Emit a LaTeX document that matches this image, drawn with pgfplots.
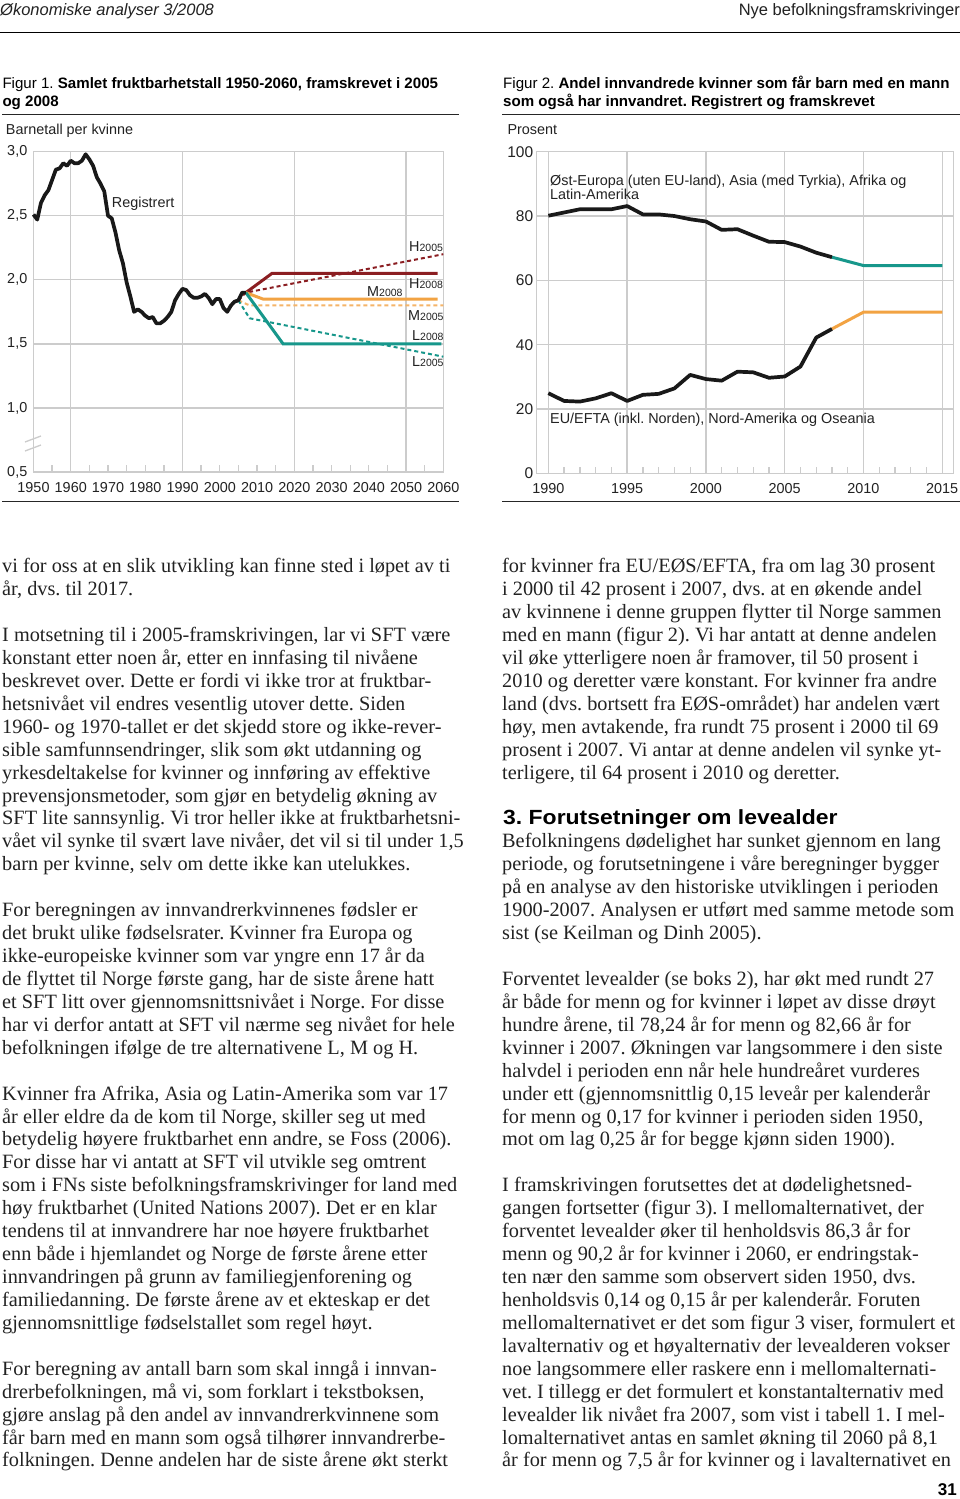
\documentclass[border=0pt]{standalone}
\usepackage{pgfplots}
\pgfplotsset{compat=1.18}
\usepackage{fontspec}
\setmainfont{Liberation Serif}
\newfontfamily\sans{Liberation Sans}
\newfontfamily\headingfont[FakeStretch=1.12]{Liberation Sans}
\definecolor{gridc}{HTML}{CCCCCC}
\definecolor{hred}{HTML}{8B1E22}
\definecolor{morange}{HTML}{F2A343}
\definecolor{lteal}{HTML}{17978B}
\definecolor{txt}{HTML}{222222}
\frenchspacing
\newcommand\bodyfont{\fontsize{20.3}{23}\selectfont}
\newcommand\Lline[2]{\pgfmathsetmacro\yy{572.7+22.93*#1}\node[anchor=base west,inner sep=0pt,font=\bodyfont,text=txt] at (2pt,-\yy pt){#2};}
\newcommand\Rline[2]{\pgfmathsetmacro\yy{572.7+22.93*#1}\node[anchor=base west,inner sep=0pt,font=\bodyfont,text=txt] at (502pt,-\yy pt){#2};}
\newcommand\cf{\sans\fontsize{14.4}{16}\selectfont}
\newcommand\tf{\sans\fontsize{15.1}{17}\selectfont}
\newcommand\sm[1]{{\fontsize{10.5}{12}\selectfont #1}}
\begin{document}
\begin{tikzpicture}
\useasboundingbox (0pt,0pt) rectangle (960pt,-1499pt);
\fill[white] (0pt,0pt) rectangle (960pt,-1499pt);
% header
\node[anchor=base west,inner sep=0pt,font=\sans\itshape\fontsize{16.5}{18}\selectfont,text=txt] at (0pt,-16pt) {Økonomiske analyser 3/2008};
\node[anchor=base east,inner sep=0pt,font=\sans\fontsize{16.5}{18}\selectfont,text=txt] at (960pt,-16pt) {Nye befolkningsframskrivinger};
\draw[black, line width=1.8pt] (0pt,-32.5pt) -- (960pt,-32.5pt);
% figure titles
\node[anchor=base west,inner sep=0pt,font=\tf] at (2.3pt,-88.3pt) {Figur 1. \textbf{Samlet fruktbarhetstall 1950-2060, framskrevet i 2005}};
\node[anchor=base west,inner sep=0pt,font=\tf] at (2.3pt,-106pt) {\textbf{og 2008}};
\draw[black!85, line width=1.1pt] (2pt,-114.3pt) -- (459pt,-114.3pt);
\node[anchor=base west,inner sep=0pt,font=\cf,text=txt] at (5.7pt,-134pt) {Barnetall per kvinne};
\node[anchor=base west,inner sep=0pt,font=\tf] at (503pt,-88.3pt) {Figur 2. \textbf{Andel innvandrede kvinner som får barn med en mann}};
\node[anchor=base west,inner sep=0pt,font=\tf] at (503pt,-106pt) {\textbf{som også har innvandret. Registrert og framskrevet}};
\draw[black!85, line width=1.1pt] (502pt,-114.3pt) -- (960pt,-114.3pt);
\node[anchor=base west,inner sep=0pt,font=\cf,text=txt] at (507.3pt,-134pt) {Prosent};
\draw[black!85, line width=1.1pt] (2pt,-501.7pt) -- (459pt,-501.7pt);
\draw[black!85, line width=1.1pt] (502pt,-501.7pt) -- (960pt,-501.7pt);
% ---------- Figure 1 ----------
\begin{axis}[
  at={(33.5pt,-472pt)}, anchor=south west, scale only axis,
  width=409.8pt, height=320.3pt,
  xmin=1950, xmax=2060, ymin=0.5, ymax=3,
  clip=false,
  axis line style={gridc, line width=1.3pt},
  ytick={0.5,1,1.5,2,2.5,3},
  yticklabels={{0,5},{1,0},{1,5},{2,0},{2,5},{3,0}},
  ymajorgrids, grid style={gridc, line width=1.3pt},
  ytick style={draw=none},
  xtick={1950,1955,...,2060},
  xticklabels={1950,,1960,,1970,,1980,,1990,,2000,,2010,,2020,,2030,,2040,,2050,,2060},
  extra x ticks={1960,1990,2020,2050},
  extra x tick labels={},
  extra x tick style={grid=major, major tick length=0pt},
  tick align=inside, xtick pos=bottom, ytick pos=left,
  major tick length=6.7pt,
  xtick style={draw=gridc, line width=1.3pt},
  /pgf/number format/assume math mode=true,
  xticklabel style={font=\cf, text=txt, yshift=-7pt},
  yticklabel style={font=\cf, text=txt, xshift=-2.7pt},
]
\addplot[hred, line width=2pt, dash pattern=on 4pt off 3pt] coordinates {(2005,1.84) (2007,1.90) (2060,2.20)};
\addplot[morange!80, line width=2pt, dash pattern=on 4pt off 3pt] coordinates {(2005,1.84) (2008,1.80) (2060,1.80)};
\addplot[lteal, line width=2pt, dash pattern=on 4pt off 3pt] coordinates {(2005,1.84) (2008,1.70) (2060,1.40)};
\addplot[hred, line width=3pt] coordinates {(2007,1.90) (2014,2.05) (2058.5,2.05)};
\addplot[morange, line width=3pt] coordinates {(2007,1.90) (2011.6,1.85) (2058.5,1.85)};
\addplot[lteal, line width=3pt] coordinates {(2007,1.90) (2017,1.50) (2059.5,1.50)};
\addplot[black!90, line width=3.7pt, line join=round] coordinates {
(1950,2.51) (1951,2.47) (1952,2.60) (1953,2.66) (1954,2.70) (1955,2.78) (1956,2.86) (1957,2.87) (1958,2.91) (1959,2.89)
(1960,2.93) (1961,2.91) (1962,2.91) (1963,2.93) (1964,2.98) (1965,2.94) (1966,2.89) (1967,2.80) (1968,2.75) (1969,2.69)
(1970,2.50) (1971,2.48) (1972,2.37) (1973,2.23) (1974,2.13) (1975,1.98) (1976,1.87) (1977,1.75) (1978,1.77) (1979,1.75)
(1980,1.72) (1981,1.70) (1982,1.71) (1983,1.66) (1984,1.66) (1985,1.68) (1986,1.71) (1987,1.75) (1988,1.84) (1989,1.89)
(1990,1.93) (1991,1.92) (1992,1.88) (1993,1.86) (1994,1.86) (1995,1.87) (1996,1.89) (1997,1.86) (1998,1.81) (1999,1.85)
(2000,1.85) (2001,1.78) (2002,1.75) (2003,1.80) (2004,1.83) (2005,1.84) (2006,1.90) (2007,1.90)};
\end{axis}
\draw[gridc, line width=1.3pt] (25pt,-442pt) -- (41pt,-436pt);
\draw[gridc, line width=1.3pt] (25pt,-451pt) -- (41pt,-445pt);
\node[anchor=base west,inner sep=0pt,font=\cf,text=txt] at (111.7pt,-207.7pt) {Registrert};
\node[anchor=base west,inner sep=0pt,font=\cf,text=txt] at (409pt,-251pt) {H\sm{2005}};
\node[anchor=base west,inner sep=0pt,font=\cf,text=txt] at (409pt,-288.3pt) {H\sm{2008}};
\node[anchor=base west,inner sep=0pt,font=\cf,text=txt] at (367pt,-296.7pt) {M\sm{2008}};
\node[anchor=base west,inner sep=0pt,font=\cf,text=txt] at (408pt,-320.7pt) {M\sm{2005}};
\node[anchor=base west,inner sep=0pt,font=\cf,text=txt] at (412pt,-340pt) {L\sm{2008}};
\node[anchor=base west,inner sep=0pt,font=\cf,text=txt] at (412pt,-366.7pt) {L\sm{2005}};
% ---------- Figure 2 ----------
\begin{axis}[
  at={(536.7pt,-473.3pt)}, anchor=south west, scale only axis,
  width=416.6pt, height=321.6pt,
  xmin=1989.26, xmax=2015.7, ymin=0, ymax=100,
  clip=false,
  axis line style={gridc, line width=1.3pt},
  ytick={0,20,...,100},
  ymajorgrids, grid style={gridc, line width=1.3pt},
  ytick style={draw=none},
  xtick={1990,...,2015},
  xticklabels={1990,,,,,1995,,,,,2000,,,,,2005,,,,,2010,,,,,2015},
  extra x ticks={1990,1995,2000,2005,2010,2015},
  extra x tick labels={},
  extra x tick style={grid=major, major tick length=0pt},
  tick align=inside, xtick pos=bottom, ytick pos=left,
  major tick length=6.7pt,
  xtick style={draw=gridc, line width=1.3pt},
  /pgf/number format/assume math mode=true,
  xticklabel style={font=\cf, text=txt, yshift=-7pt},
  yticklabel style={font=\sans\fontsize{15.5}{17}\selectfont, text=txt},
]
\addplot[lteal, line width=3pt] coordinates {(2008,67.2) (2010,64.6) (2015,64.6)};
\addplot[morange, line width=3pt] coordinates {(2008,44.9) (2010,50.1) (2015,50.1)};
\addplot[black!90, line width=3.7pt, line join=round] coordinates {
(1990,80.1) (1991,81.1) (1992,82.1) (1993,82.1) (1994,82.1) (1995,83.1) (1996,80.5) (1997,80.5) (1998,80.0) (1999,79.0)
(2000,78.3) (2001,75.7) (2002,75.9) (2003,73.9) (2004,72.0) (2005,71.9) (2006,70.5) (2007,68.6) (2008,67.2)};
\addplot[black!90, line width=3.7pt, line join=round] coordinates {
(1990,24.9) (1991,22.5) (1992,22.3) (1993,23.3) (1994,24.9) (1995,22.5) (1996,24.4) (1997,24.7) (1998,26.4) (1999,30.6)
(2000,29.3) (2001,28.8) (2002,31.6) (2003,31.4) (2004,29.7) (2005,30.1) (2006,33.2) (2007,42.2) (2008,44.9)};
\end{axis}
\node[anchor=base west,inner sep=0pt,font=\cf,text=txt] at (550pt,-185pt) {Øst-Europa (uten EU-land), Asia (med Tyrkia), Afrika og};
\node[anchor=base west,inner sep=0pt,font=\cf,text=txt] at (550pt,-199.3pt) {Latin-Amerika};
\node[anchor=base west,inner sep=0pt,font=\cf,text=txt] at (550pt,-423.3pt) {EU/EFTA (inkl. Norden), Nord-Amerika og Oseania};
% ---------- body text, left column ----------
\Lline{0}{vi for oss at en slik utvikling kan finne sted i løpet av ti}
\Lline{1}{år, dvs. til 2017.}
\Lline{3}{I motsetning til i 2005-framskrivingen, lar vi SFT være}
\Lline{4}{konstant etter noen år, etter en innfasing til nivåene}
\Lline{5}{beskrevet over. Dette er fordi vi ikke tror at fruktbar-}
\Lline{6}{hetsnivået vil endres vesentlig utover dette. Siden}
\Lline{7}{1960- og 1970-tallet er det skjedd store og ikke-rever-}
\Lline{8}{sible samfunnsendringer, slik som økt utdanning og}
\Lline{9}{yrkesdeltakelse for kvinner og innføring av effektive}
\Lline{10}{prevensjonsmetoder, som gjør en betydelig økning av}
\Lline{11}{SFT lite sannsynlig. Vi tror heller ikke at fruktbarhetsni-}
\Lline{12}{vået vil synke til svært lave nivåer, det vil si til under 1,5}
\Lline{13}{barn per kvinne, selv om dette ikke kan utelukkes.}
\Lline{15}{For beregningen av innvandrerkvinnenes fødsler er}
\Lline{16}{det brukt ulike fødselsrater. Kvinner fra Europa og}
\Lline{17}{ikke-europeiske kvinner som var yngre enn 17 år da}
\Lline{18}{de flyttet til Norge første gang, har de siste årene hatt}
\Lline{19}{et SFT litt over gjennomsnittsnivået i Norge. For disse}
\Lline{20}{har vi derfor antatt at SFT vil nærme seg nivået for hele}
\Lline{21}{befolkningen ifølge de tre alternativene L, M og H.}
\Lline{23}{Kvinner fra Afrika, Asia og Latin-Amerika som var 17}
\Lline{24}{år eller eldre da de kom til Norge, skiller seg ut med}
\Lline{25}{betydelig høyere fruktbarhet enn andre, se Foss (2006).}
\Lline{26}{For disse har vi antatt at SFT vil utvikle seg omtrent}
\Lline{27}{som i FNs siste befolkningsframskrivinger for land med}
\Lline{28}{høy fruktbarhet (United Nations 2007). Det er en klar}
\Lline{29}{tendens til at innvandrere har noe høyere fruktbarhet}
\Lline{30}{enn både i hjemlandet og Norge de første årene etter}
\Lline{31}{innvandringen på grunn av familiegjenforening og}
\Lline{32}{familiedanning. De første årene av et ekteskap er det}
\Lline{33}{gjennomsnittlige fødselstallet som regel høyt.}
\Lline{35}{For beregning av antall barn som skal inngå i innvan-}
\Lline{36}{drerbefolkningen, må vi, som forklart i tekstboksen,}
\Lline{37}{gjøre anslag på den andel av innvandrerkvinnene som}
\Lline{38}{får barn med en mann som også tilhører innvandrerbe-}
\Lline{39}{folkningen. Denne andelen har de siste årene økt sterkt}
% ---------- body text, right column ----------
\Rline{0}{for kvinner fra EU/EØS/EFTA, fra om lag 30 prosent}
\Rline{1}{i 2000 til 42 prosent i 2007, dvs. at en økende andel}
\Rline{2}{av kvinnene i denne gruppen flytter til Norge sammen}
\Rline{3}{med en mann (figur 2). Vi har antatt at denne andelen}
\Rline{4}{vil øke ytterligere noen år framover, til 50 prosent i}
\Rline{5}{2010 og deretter være konstant. For kvinner fra andre}
\Rline{6}{land (dvs. bortsett fra EØS-området) har andelen vært}
\Rline{7}{høy, men avtakende, fra rundt 75 prosent i 2000 til 69}
\Rline{8}{prosent i 2007. Vi antar at denne andelen vil synke yt-}
\Rline{9}{terligere, til 64 prosent i 2010 og deretter.}
\node[anchor=base west,inner sep=0pt,font=\headingfont\bfseries\fontsize{20.5}{23}\selectfont,text=black] at (503pt,-824.5pt) {3. Forutsetninger om levealder};
\Rline{12}{Befolkningens dødelighet har sunket gjennom en lang}
\Rline{13}{periode, og forutsetningene i våre beregninger bygger}
\Rline{14}{på en analyse av den historiske utviklingen i perioden}
\Rline{15}{1900-2007. Analysen er utført med samme metode som}
\Rline{16}{sist (se Keilman og Dinh 2005).}
\Rline{18}{Forventet levealder (se boks 2), har økt med rundt 27}
\Rline{19}{år både for menn og for kvinner i løpet av disse drøyt}
\Rline{20}{hundre årene, til 78,24 år for menn og 82,66 år for}
\Rline{21}{kvinner i 2007. Økningen var langsommere i den siste}
\Rline{22}{halvdel i perioden enn når hele hundreåret vurderes}
\Rline{23}{under ett (gjennomsnittlig 0,15 leveår per kalenderår}
\Rline{24}{for menn og 0,17 for kvinner i perioden siden 1950,}
\Rline{25}{mot om lag 0,25 år for begge kjønn siden 1900).}
\Rline{27}{I framskrivingen forutsettes det at dødelighetsned-}
\Rline{28}{gangen fortsetter (figur 3). I mellomalternativet, der}
\Rline{29}{forventet levealder øker til henholdsvis 86,3 år for}
\Rline{30}{menn og 90,2 år for kvinner i 2060, er endringstak-}
\Rline{31}{ten nær den samme som observert siden 1950, dvs.}
\Rline{32}{henholdsvis 0,14 og 0,15 år per kalenderår. Foruten}
\Rline{33}{mellomalternativet er det som figur 3 viser, formulert et}
\Rline{34}{lavalternativ og et høyalternativ der levealderen vokser}
\Rline{35}{noe langsommere eller raskere enn i mellomalternati-}
\Rline{36}{vet. I tillegg er det formulert et konstantalternativ med}
\Rline{37}{levealder lik nivået fra 2007, som vist i tabell 1. I mel-}
\Rline{38}{lomalternativet antas en samlet økning til 2060 på 8,1}
\Rline{39}{år for menn og 7,5 år for kvinner og i lavalternativet en}
\node[anchor=base east,inner sep=0pt,font=\sans\bfseries\fontsize{17}{19}\selectfont,text=black] at (957pt,-1495pt) {31};
\end{tikzpicture}
\end{document}
